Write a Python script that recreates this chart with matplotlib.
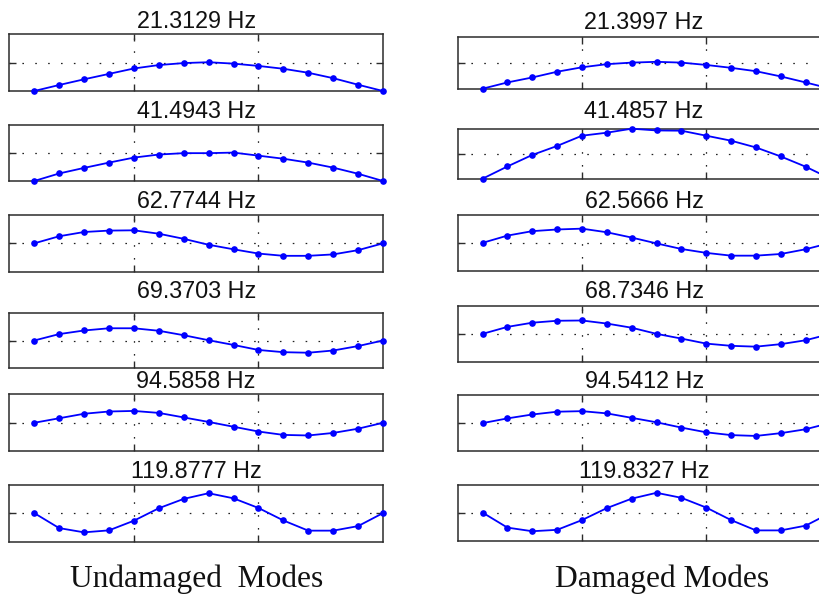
import matplotlib
matplotlib.use("Agg")
import matplotlib.pyplot as plt
import numpy as np

# node index along the beam
nodes = list(range(1, 16))

undamaged_freqs = ["21.3129 Hz", "41.4943 Hz", "62.7744 Hz", "69.3703 Hz", "94.5858 Hz", "119.8777 Hz"]
damaged_freqs = ["21.3997 Hz", "41.4857 Hz", "62.5666 Hz", "68.7346 Hz", "94.5412 Hz", "119.8327 Hz"]

und_mode1 = [-1.0, -0.79, -0.59, -0.40, -0.21, -0.09, -0.02, 0.01, -0.04, -0.12, -0.22, -0.36, -0.55, -0.78, -1.0]
und_mode2 = [-1.0, -0.73, -0.53, -0.34, -0.16, -0.05, 0.0, 0.0, 0.02, -0.09, -0.20, -0.34, -0.52, -0.74, -1.0]
und_mode3 = [0.0, 0.25, 0.40, 0.45, 0.46, 0.34, 0.16, -0.05, -0.21, -0.36, -0.44, -0.44, -0.39, -0.24, 0.0]
und_mode4 = [0.0, 0.23, 0.36, 0.44, 0.44, 0.35, 0.19, 0.01, -0.16, -0.34, -0.42, -0.44, -0.36, -0.20, 0.0]
und_mode5 = [-0.01, 0.15, 0.31, 0.39, 0.41, 0.34, 0.18, 0.02, -0.15, -0.32, -0.44, -0.46, -0.37, -0.22, -0.01]
und_mode6 = [0.01, -0.52, -0.67, -0.60, -0.26, 0.18, 0.51, 0.71, 0.53, 0.19, -0.25, -0.61, -0.61, -0.45, 0.01]

dam_mode1 = [-1.0, -0.76, -0.57, -0.35, -0.18, -0.06, 0.0, 0.03, 0.0, -0.09, -0.20, -0.33, -0.53, -0.76, -1.0]
dam_mode2 = [-1.0, -0.51, -0.05, 0.31, 0.72, 0.84, 1.0, 0.93, 0.92, 0.72, 0.52, 0.25, -0.11, -0.52, -1.0]
dam_mode3 = [0.0, 0.26, 0.42, 0.48, 0.51, 0.38, 0.19, -0.02, -0.22, -0.36, -0.46, -0.46, -0.40, -0.23, 0.0]
dam_mode4 = [0.0, 0.25, 0.40, 0.47, 0.48, 0.37, 0.22, 0.0, -0.17, -0.35, -0.43, -0.46, -0.37, -0.23, 0.0]
dam_mode5 = [-0.01, 0.16, 0.30, 0.40, 0.42, 0.34, 0.18, 0.02, -0.17, -0.34, -0.44, -0.47, -0.37, -0.23, 0.0]
dam_mode6 = [0.01, -0.53, -0.66, -0.61, -0.26, 0.17, 0.51, 0.72, 0.54, 0.19, -0.26, -0.63, -0.63, -0.46, 0.0]

undamaged = [und_mode1, und_mode2, und_mode3, und_mode4, und_mode5, und_mode6]
damaged = [dam_mode1, dam_mode2, dam_mode3, dam_mode4, dam_mode5, dam_mode6]

W, H = 820, 595
fig = plt.figure(figsize=(W / 100, H / 100), dpi=100)

# layout in pixels: (top, bottom) of each panel
left_x = (9.3, 383.0)
right_x = (457.7, 830.5)
left_rows = [(34, 91), (125.3, 181), (215, 271.7), (312.7, 368.3), (394.3, 450.7), (485, 541.7)]
right_rows = [(36.5, 88.7), (128.7, 178.7), (215, 270.7), (306, 361.7), (395, 450.7), (485, 540.7)]
left_title_base = [28, 118, 208.3, 298, 388, 478]
right_title_base = [29, 118, 208, 298, 388, 478]

blue = (0, 0, 1)
frame_color = "#2b2b2b"


def make_panel(xr, yr, values, title, base):
    l, r = xr
    t, b = yr
    ax = fig.add_axes([l / W, 1 - b / H, (r - l) / W, (b - t) / H])
    ax.plot(nodes, values, color=blue, lw=1.3, marker="o", ms=4.8, mew=0,
            clip_on=False, zorder=3)
    ax.set_xlim(0, 15)
    ax.set_ylim(-1, 1)
    ax.set_xticks([5, 10])
    ax.set_yticks([0])
    ax.set_xticklabels([])
    ax.set_yticklabels([])
    ax.tick_params(direction="in", length=5, width=1.0, color=frame_color,
                   top=True, right=True, bottom=True, left=True)
    ax.grid(True, color="#222222", lw=0.9, linestyle=(0, (1.3, 9.0)))
    for s in ax.spines.values():
        s.set_color(frame_color)
        s.set_linewidth(1.1)
    cx = (l + r) / 2
    fig.text(cx / W, 1 - base / H, title, ha="center", va="baseline",
             fontsize=16.8, family="Liberation Sans", color="#111111")
    return ax


for i in range(6):
    make_panel(left_x, left_rows[i], undamaged[i], undamaged_freqs[i], left_title_base[i])
    make_panel(right_x, right_rows[i], damaged[i], damaged_freqs[i], right_title_base[i])

fig.text(197 / W, 1 - 587 / H, "Undamaged  Modes", ha="center", va="baseline",
         fontsize=22.7, family="Liberation Serif", color="#111111")
fig.text(662 / W, 1 - 587 / H, "Damaged Modes", ha="center", va="baseline",
         fontsize=22.7, family="Liberation Serif", color="#111111")

fig.savefig("out.png", dpi=100)
